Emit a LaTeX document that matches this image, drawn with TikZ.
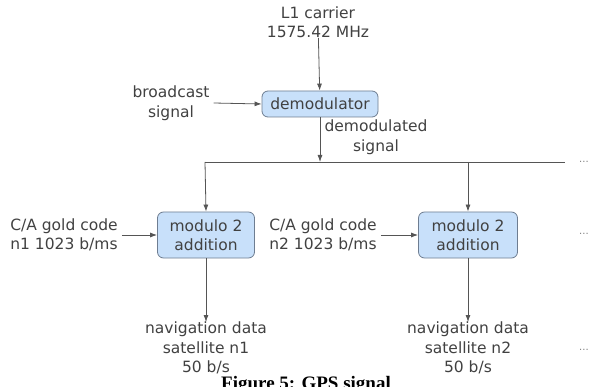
\documentclass[tikz,border=0pt]{standalone}
\usepackage{fontspec}
\setmainfont{DejaVu Sans}
\newfontfamily\capfont{Liberation Serif}
\usetikzlibrary{arrows.meta}
\definecolor{boxfill}{RGB}{200,224,250}
\definecolor{boxline}{RGB}{110,125,145}
\definecolor{linec}{RGB}{85,85,85}
\definecolor{textc}{RGB}{65,65,65}
\tikzset{
  blk/.style={draw=boxline, fill=boxfill, rounded corners=6pt, line width=0.8pt,
    align=center, font=\fontsize{15.5}{19}\selectfont, text=textc, inner sep=0pt},
  lbl/.style={align=center, font=\fontsize{15.5}{19.5}\selectfont, text=textc, inner sep=0pt},
  con/.style={draw=linec, line width=0.8pt, -{Latex[length=7pt,width=5pt]}},
  bus/.style={draw=linec, line width=0.8pt},
  dots/.style={font=\fontsize{10}{12}\selectfont, text=gray, inner sep=0pt}
}
\begin{document}
\begin{tikzpicture}[x=1pt,y=-1pt]
\useasboundingbox (0,0) rectangle (591,387);
% labels
\node[lbl] (carrier) at (318,22) {L1 carrier\\1575.42 MHz};
\node[blk, minimum width=116pt, minimum height=26pt] (demod) at (320,104) {demodulator};
\node[lbl] (bcast) at (171,103) {broadcast\\signal};
\node[lbl] (dsig) at (376,137) {demodulated\\signal};
\coordinate (busL) at (205,162);
\coordinate (busM) at (320,162);
\coordinate (busR) at (468,162);
\coordinate (busE) at (565,162);
\node[dots] (dots1) at (584,162) {...};
\node[blk, minimum width=97pt, minimum height=46pt] (mod1) at (206,235) {modulo 2\\addition};
\node[blk, minimum width=99pt, minimum height=46pt] (mod2) at (468,235) {modulo 2\\addition};
\node[lbl] (ca1) at (64,235) {C/A gold code\\n1 1023 b/ms};
\node[lbl] (ca2) at (323,235) {C/A gold code\\n2 1023 b/ms};
\node[dots] (dots2) at (584,234) {...};
\node[lbl, anchor=north] (nav1) at (206,322) {navigation data\\satellite n1\\50 b/s};
\node[lbl, anchor=north] (nav2) at (468,322) {navigation data\\satellite n2\\50 b/s};
\node[dots] (dots3) at (584,350) {...};
% connectors
\draw[con] (carrier) -- (demod);
\draw[con] ([xshift=4pt]bcast.east) -- (demod.west);
\draw[con] (demod.south) -- (busM);
\draw[bus] (busL) -- (busE);
\draw[con] (busL) -- (mod1.north);
\draw[con] (busR) -- (mod2.north);
\draw[con] ([xshift=4pt]ca1.east) -- (mod1.west);
\draw[con] ([xshift=4pt]ca2.east) -- (mod2.west);
\draw[con] (mod1.south) -- (nav1.north);
\draw[con] (mod2.south) -- (nav2.north);
% caption
\node[anchor=base, font=\capfont\bfseries\fontsize{19}{22}\selectfont, inner sep=0pt] (cap) at (306,389) {Figure 5: GPS signal};
\end{tikzpicture}
\end{document}
